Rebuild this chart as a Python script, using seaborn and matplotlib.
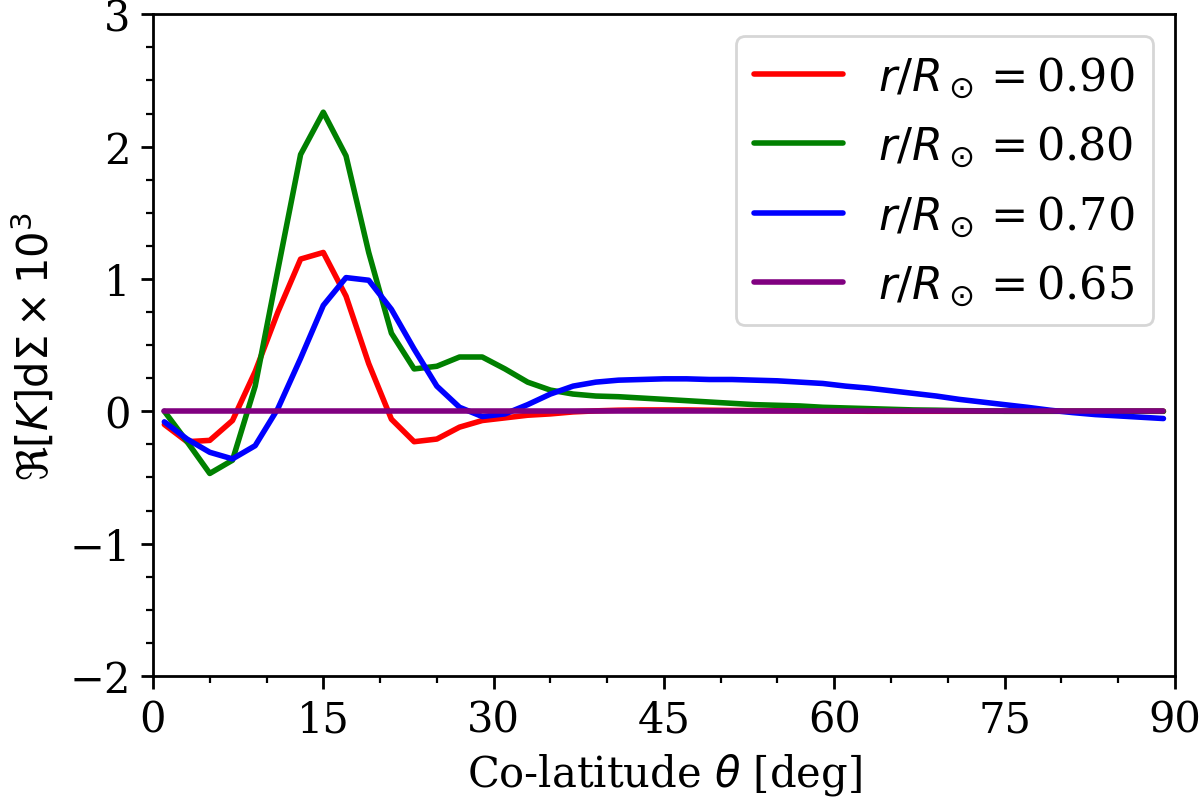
import numpy as np
import pandas as pd
import seaborn as sns
import matplotlib.pyplot as plt
from matplotlib.ticker import AutoMinorLocator, MultipleLocator


OUTPUT_PATH = "out.png"

# co-latitude grid (deg)
theta = list(range(1, 90, 2))

radii = ["0.90", "0.80", "0.70", "0.65"]
colors = ["red", "green", "blue", "purple"]

# kernel values (x 1e3)
k_090 = [-0.10, -0.23, -0.22, -0.07, 0.30, 0.75, 1.15, 1.20, 0.87, 0.36,
         -0.06, -0.23, -0.21, -0.12, -0.07, -0.05, -0.03, -0.02, -0.005, 0.003,
         0.008, 0.01, 0.01, 0.01, 0.008, 0.006, 0.005, 0.004, 0.003, 0.002,
         0.001, 0.0, 0.0, 0.0, 0.0, 0.0, 0.0, 0.0, 0.0, 0.0,
         0.0, 0.0, 0.0, 0.0, 0.0]
k_080 = [0.0, -0.23, -0.47, -0.37, 0.19, 1.07, 1.94, 2.26, 1.93, 1.20,
         0.59, 0.32, 0.34, 0.41, 0.41, 0.32, 0.22, 0.16, 0.13, 0.115,
         0.11, 0.10, 0.09, 0.08, 0.07, 0.06, 0.05, 0.045, 0.04, 0.03,
         0.025, 0.02, 0.015, 0.01, 0.008, 0.005, 0.003, 0.0, 0.0, 0.0,
         0.0, 0.0, 0.0, 0.0, 0.0]
k_070 = [-0.08, -0.21, -0.31, -0.36, -0.26, 0.02, 0.40, 0.80, 1.01, 0.99,
         0.77, 0.47, 0.19, 0.03, -0.04, -0.02, 0.05, 0.13, 0.19, 0.22,
         0.235, 0.24, 0.245, 0.245, 0.24, 0.24, 0.235, 0.23, 0.22, 0.21,
         0.19, 0.175, 0.155, 0.135, 0.115, 0.09, 0.07, 0.05, 0.03, 0.008,
         -0.01, -0.025, -0.035, -0.045, -0.055]
k_065 = [0.0] * len(theta)


def main() -> None:
    frames = []
    for r, vals in zip(radii, [k_090, k_080, k_070, k_065]):
        frames.append(pd.DataFrame({"theta": theta, "K": vals,
                                    "r": rf"$r/R_\odot=${r}"}))
    df = pd.concat(frames, ignore_index=True)

    sns.set_style("ticks")
    plt.rcParams["font.family"] = ["DejaVu Serif"]
    plt.rcParams["mathtext.fontset"] = "dejavusans"
    plt.rcParams["font.size"] = 15
    plt.rcParams["text.color"] = "black"
    plt.rcParams["axes.labelcolor"] = "black"
    plt.rcParams["xtick.color"] = "black"
    plt.rcParams["ytick.color"] = "black"

    fig, ax = plt.subplots(figsize=(6, 4.015), dpi=200)
    fig.subplots_adjust(left=0.1275, right=0.979, top=0.981, bottom=0.157)

    sns.lineplot(data=df, x="theta", y="K", hue="r",
                 palette=dict(zip(df["r"].unique(), colors)),
                 linewidth=2.0, ax=ax)

    ax.set_xlim(0, 90)
    ax.set_ylim(-2, 3)
    ax.xaxis.set_major_locator(MultipleLocator(15))
    ax.xaxis.set_minor_locator(AutoMinorLocator(3))
    ax.yaxis.set_major_locator(MultipleLocator(1))
    ax.yaxis.set_minor_locator(AutoMinorLocator(4))
    ax.tick_params(which="major", length=4.5, width=1, labelsize=15)
    ax.tick_params(which="minor", length=2.5, width=0.8)
    for s in ax.spines.values():
        s.set_linewidth(1.0)
        s.set_color("black")

    ax.set_xlabel(r"Co-latitude $\theta$ [deg]", fontsize=15)
    ax.set_ylabel(r"$\Re[K]\mathrm{d}\Sigma\times10^3$", fontsize=15)

    leg = ax.legend(title=None, loc="upper right", fontsize=16, frameon=True,
                    labelspacing=0.55)
    leg.get_frame().set_edgecolor("0.8")

    fig.savefig(OUTPUT_PATH, dpi=200)
    plt.close(fig)


if __name__ == "__main__":
    main()
